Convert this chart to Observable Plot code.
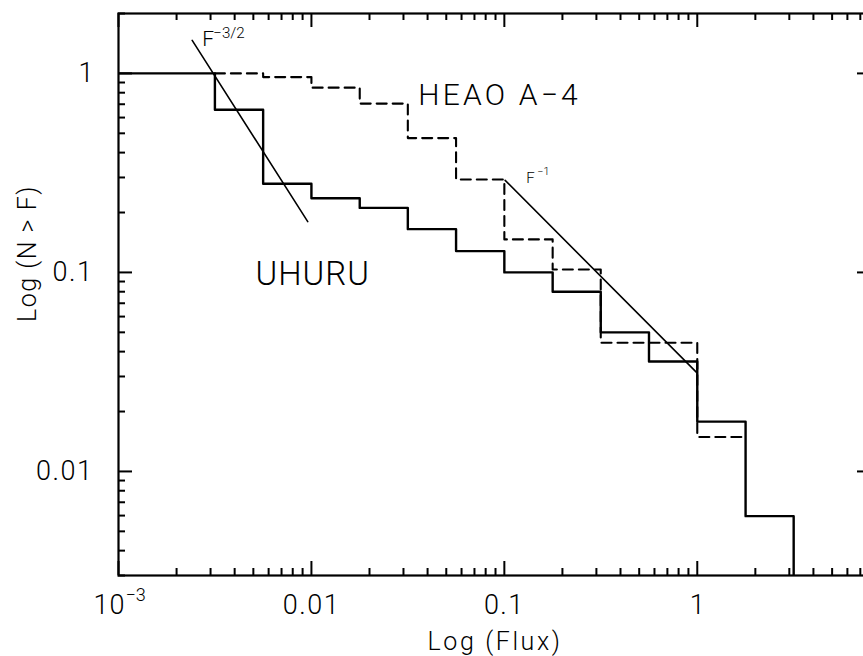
<!DOCTYPE html>
<html>
<head>
<meta charset="utf-8">
<script src="https://cdn.jsdelivr.net/npm/d3@7"></script>
<script src="https://cdn.jsdelivr.net/npm/@observablehq/plot@0.6"></script>
<style>
  html, body { margin: 0; padding: 0; background: #fff; overflow: hidden; }
  #chart { width: 863px; height: 656px; overflow: hidden; }
  #chart svg { max-width: none !important; }
  svg text { font-family: Roboto, "DejaVu Sans", sans-serif; font-weight: 300; }
</style>
</head>
<body>
<div id="chart"></div>
<script>
// ---- data ----
// UHURU cumulative counts (bin left edge, N>F normalised)
const uhuruX = [0.001, 0.00316, 0.00562, 0.01, 0.0178, 0.0316, 0.0562, 0.1, 0.178, 0.316, 0.562, 1, 1.78, 3.16];
const uhuruY = [1.0, 0.657, 0.279, 0.236, 0.211, 0.165, 0.128, 0.100, 0.080, 0.050, 0.0357, 0.0178, 0.00596, 0.002];
// HEAO A-4 cumulative counts
const heaoX = [0.00316, 0.00562, 0.01, 0.0178, 0.0316, 0.0562, 0.1, 0.178, 0.316, 1, 1.78];
const heaoY = [1.0, 0.958, 0.848, 0.705, 0.473, 0.293, 0.1465, 0.1035, 0.0443, 0.0149, 0.0149];
// reference power laws (endpoints)
const slope32X = [0.00241, 0.00957];
const slope32Y = [1.465, 0.180];
const slope1X = [0.101, 1.0];
const slope1Y = [0.290, 0.0312];

// axes
const xMajor = [0.001, 0.01, 0.1, 1];
const xMajorLabels = ["10", "0.01", "0.1", "1"];
const xFirstSup = "\u22123";
const xMinor = [2,3,4,5,6,7,8,9].flatMap(m => [0.001, 0.01, 0.1, 1].map(d => m * d)).filter(v => v <= 8);
const yMajor = [0.01, 0.1, 1];
const yMajorLabels = ["0.01", "0.1", "1"];
const yMinor = [3,4,5,6,7,8,9].map(m => m * 0.001).concat([2,3,4,5,6,7,8,9].map(m => m * 0.01), [2,3,4,5,6,7,8,9].map(m => m * 0.1), [2]);

// annotations
const annText = ["HEAO A\u22124", "UHURU"];
const annX = [0.0358, 0.00513];
const annY = [0.69, 0.0861];
const annSize = [30, 33];
const fLabelX = [0.00272, 0.130];
const fLabelY = [1.38, 0.280];
const fLabelSup = ["\u22123/2", "\u22121"];
const fLabelSize = [21, 15];

const xTitle = "Log (Flux)";
const yTitle = "Log (N > F)";

// ---- layout ----
const width = 880, height = 656;
const mL = 118, mR = 9, mT = 13, mB = 81;
const innerW = width - mL - mR, innerH = height - mT - mB;
const majorLen = 14, minorLen = 7;

const uhuru = uhuruX.map((x, i) => ({x, y: uhuruY[i]}));
const heao = heaoX.map((x, i) => ({x, y: heaoY[i]}));
const s32 = slope32X.map((x, i) => ({x, y: slope32Y[i]}));
const s1 = slope1X.map((x, i) => ({x, y: slope1Y[i]}));
const ann = annText.map((t, i) => ({t, x: annX[i], y: annY[i], s: annSize[i]}));
const fl = fLabelX.map((x, i) => ({x, y: fLabelY[i], sup: fLabelSup[i], s: fLabelSize[i]}));
const xLab = xMajor.map((v, i) => ({v, t: xMajorLabels[i]}));

const tickStyle = {stroke: "black", strokeWidth: 2};

const chart = Plot.plot({
  width, height,
  marginLeft: mL, marginRight: mR, marginTop: mT, marginBottom: mB,
  x: {type: "log", domain: [0.001, 8], axis: null},
  y: {type: "log", domain: [0.003, 2], axis: null},
  style: {background: "white", color: "black", maxWidth: "none"},
  marks: [
    // ticks (inward, all four sides)
    Plot.ruleX(xMajor, {x: d => d, insetTop: innerH - majorLen, ...tickStyle}),
    Plot.ruleX(xMajor, {x: d => d, insetBottom: innerH - majorLen, ...tickStyle}),
    Plot.ruleX(xMinor, {x: d => d, insetTop: innerH - minorLen, ...tickStyle}),
    Plot.ruleX(xMinor, {x: d => d, insetBottom: innerH - minorLen, ...tickStyle}),
    Plot.ruleY(yMajor, {y: d => d, insetRight: innerW - majorLen, ...tickStyle}),
    Plot.ruleY(yMajor, {y: d => d, insetLeft: innerW - majorLen, ...tickStyle}),
    Plot.ruleY(yMinor, {y: d => d, insetRight: innerW - minorLen, ...tickStyle}),
    Plot.ruleY(yMinor, {y: d => d, insetLeft: innerW - minorLen, ...tickStyle}),
    Plot.frame({stroke: "black", strokeWidth: 2.2}),
    // data
    Plot.line(uhuru, {x: "x", y: "y", curve: "step-after", stroke: "black", strokeWidth: 2.4, clip: true}),
    Plot.line(heao, {x: "x", y: "y", curve: "step-after", stroke: "black", strokeWidth: 2.1, strokeDasharray: "10,6", clip: true}),
    Plot.line(s32, {x: "x", y: "y", stroke: "black", strokeWidth: 1.6}),
    Plot.line(s1, {x: "x", y: "y", stroke: "black", strokeWidth: 1.6}),
    // annotations
    Plot.text(ann, {x: "x", y: "y", text: "t", fontSize: d => d.s, textAnchor: "start", lineAnchor: "bottom", fill: "black"}),
    Plot.text(fl, {x: "x", y: "y", text: () => "F", fontSize: d => d.s, textAnchor: "start", lineAnchor: "bottom", fill: "black"}),
    Plot.text(fl, {x: "x", y: "y", text: "sup", fontSize: d => d.s * 0.72, fontWeight: 500, textAnchor: "start", lineAnchor: "bottom", dx: 11, dy: -8, fill: "black"}),
    // tick labels
    Plot.text(xLab.slice(0, 1), {x: "v", frameAnchor: "bottom", text: "t", fontSize: 27, lineAnchor: "bottom", dy: 38, dx: 7, textAnchor: "end", fill: "black"}),
    Plot.text(xLab.slice(0, 1), {x: "v", frameAnchor: "bottom", text: () => xFirstSup, fontSize: 18, lineAnchor: "bottom", dy: 25, dx: 7, textAnchor: "start", fill: "black"}),
    Plot.text(xLab.slice(1), {x: "v", frameAnchor: "bottom", text: "t", fontSize: 27, lineAnchor: "bottom", dy: 38, textAnchor: "middle", fill: "black"}),
    Plot.text(yMajor, {y: d => d, frameAnchor: "left", text: (d, i) => yMajorLabels[i], fontSize: 27, textAnchor: "end", lineAnchor: "middle", dx: -25, fill: "black"}),
    // axis titles
    Plot.text([xTitle], {frameAnchor: "bottom", text: d => d, fontSize: 25, textAnchor: "middle", lineAnchor: "bottom", dy: 74, fill: "black"}),
    Plot.text([yTitle], {frameAnchor: "left", text: d => d, fontSize: 25, rotate: -90, textAnchor: "middle", lineAnchor: "top", dx: -100, dy: -41, fill: "black"})
  ]
});
document.getElementById("chart").append(chart);

// widen the lettering toward the plotter font of the original
const spacing = new Map([["HEAO A\u22124", 3.2], ["UHURU", 1], [xTitle, 2.6], [yTitle, 1.5],
  ["0.01", 1.5], ["0.1", 1.5], ["1", 0], ["10", 1]]);
d3.select(chart).selectAll("text").each(function () {
  const s = spacing.get(this.textContent);
  if (s) this.setAttribute("letter-spacing", s);
});
</script>
</body>
</html>
